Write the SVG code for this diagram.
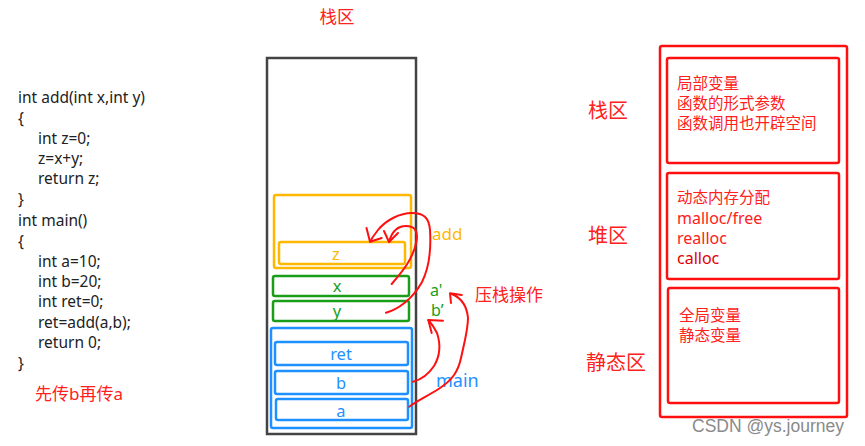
<svg xmlns="http://www.w3.org/2000/svg" width="865" height="446" viewBox="0 0 865 446">
<style>
text{font-family:"Noto Sans","Noto Sans CJK SC",sans-serif;dominant-baseline:central}
.code{font-size:15.5px;fill:#222}
.red{fill:#ff2020}
.box{fill:none;stroke-width:2.5}
.or{stroke:#ffb800}.gr{stroke:#1a9e1a}.bl{stroke:#1e90ff}
.tor{fill:#ffb800}.tgr{fill:#1a9e1a}.tbl{fill:#1e90ff}
.rb{fill:none;stroke:#ff1010;stroke-width:2.5}
.hand{fill:none;stroke:#ff1010;stroke-width:2;stroke-linecap:round;stroke-linejoin:round}
.lbl{font-size:16.5px;text-anchor:middle}
.mem{font-size:15.5px}
.heap{font-size:16px}
</style>
<rect width="865" height="446" fill="#fff"/>
<g id="code">
<text class="code" x="18" y="97">int add(int x,int y)</text>
<text class="code" x="18" y="118">{</text>
<text class="code" x="38" y="138">int z=0;</text>
<text class="code" x="38" y="158">z=x+y;</text>
<text class="code" x="38" y="178">return z;</text>
<text class="code" x="18" y="199">}</text>
<text class="code" x="18" y="220">int main()</text>
<text class="code" x="18" y="241">{</text>
<text class="code" x="38" y="261">int a=10;</text>
<text class="code" x="38" y="281">int b=20;</text>
<text class="code" x="38" y="301">int ret=0;</text>
<text class="code" x="38" y="322">ret=add(a,b);</text>
<text class="code" x="38" y="342">return 0;</text>
<text class="code" x="18" y="363">}</text>
<text class="red" x="35" y="393" style="font-size:17px">先传b再传a</text>
</g>
<g id="stack">
<text class="red" x="337" y="16" style="font-size:17.5px;text-anchor:middle">栈区</text>
<rect x="267" y="58" width="149" height="376" fill="none" stroke="#444" stroke-width="2.5"/>
</g>
<g id="add-frame">
<rect class="box or" x="274" y="195" width="137" height="73" rx="2"/>
<text class="tor" x="432" y="233" style="font-size:17px">add</text>
</g>
<g id="z"><rect class="box or" x="279" y="242" width="126" height="22" rx="2"/><text class="lbl tor" x="336" y="253">z</text></g>
<g id="x"><rect class="box gr" x="273" y="276" width="136" height="20" rx="2"/><text class="lbl tgr" x="337" y="285">x</text></g>
<g id="y"><rect class="box gr" x="273" y="301" width="136" height="20" rx="2"/><text class="lbl tgr" x="337" y="310">y</text></g>
<g id="main-frame">
<rect class="box bl" x="271" y="328" width="141" height="100" rx="2"/>
<text class="tbl" x="436" y="380" style="font-size:18px">main</text>
</g>
<g id="ret"><rect class="box bl" x="275" y="342" width="133" height="23" rx="2"/><text class="lbl tbl" x="341" y="353">ret</text></g>
<g id="b"><rect class="box bl" x="275" y="371" width="133" height="23" rx="2"/><text class="lbl tbl" x="341" y="382">b</text></g>
<g id="a"><rect class="box bl" x="276" y="399" width="132" height="21" rx="2"/><text class="lbl tbl" x="341" y="410">a</text></g>
<g id="params">
<text class="tgr" x="430" y="290" style="font-size:16px">a'</text>
<text class="tgr" x="431" y="310" style="font-size:16px">b’</text>
<text class="red" x="475" y="294" style="font-size:17px">压栈操作</text>
</g>
<g id="connectors">
<path class="hand" d="M391.7,284 C402,272 414,258 416.7,240 C418,230 414,226 406,226 C398,226 392,231 389,242"/>
<path class="hand" d="M384,231 L389,242 L398,233"/>
<path class="hand" d="M386,312.7 C397,310 412,300 422,282 C430,266 431,246 430,230 C429,218 424,213 412,213 C400,213 386,220 378,230 C374,235 372,238 370,241.7"/>
<path class="hand" d="M366.5,228 L370,241.7 L381.7,238"/>
<path class="hand" d="M413,381.7 C420,380 428,375 434,366 C440,356 441,345 437,333 C434,327 431,323 428.3,320"/>
<path class="hand" d="M431.7,333 L428.3,320 L443,320.7"/>
<path class="hand" d="M409.3,406.7 C418,400 428,396 440,388 C452,380 458,372 461,358 C464,344 468,330 468,318 C467,306 461,298 452,294"/>
<path class="hand" d="M461.7,295 L450,293.3 L451,303"/>
</g>
<g id="memory">
<rect class="rb" x="660" y="46" width="187" height="371" rx="2"/>
<text class="red" x="588" y="110" style="font-size:20px">栈区</text>
<text class="red" x="588" y="235" style="font-size:20px">堆区</text>
<text class="red" x="586" y="362" style="font-size:20px">静态区</text>
</g>
<g id="stack-area">
<rect class="rb" x="667" y="58" width="172" height="105" rx="2"/>
<text class="red mem" x="677" y="83">局部变量</text>
<text class="red mem" x="677" y="103">函数的形式参数</text>
<text class="red mem" x="677" y="123">函数调用也开辟空间</text>
</g>
<g id="heap-area">
<rect class="rb" x="667" y="173" width="172" height="106" rx="2"/>
<text class="red mem" x="677" y="197">动态内存分配</text>
<text class="red heap" x="677" y="218">malloc/free</text>
<text class="red heap" x="677" y="238">realloc</text>
<text class="heap" x="677" y="258" style="fill:#e00000">calloc</text>
</g>
<g id="static-area">
<rect class="rb" x="668" y="288" width="171" height="115" rx="2"/>
<text class="red mem" x="679" y="315">全局变量</text>
<text class="red mem" x="679" y="335">静态变量</text>
</g>
<text x="692" y="426" style="font-family:'Liberation Sans',sans-serif;font-size:17.5px;fill:#8a8a8a">CSDN @ys.journey</text>
</svg>
